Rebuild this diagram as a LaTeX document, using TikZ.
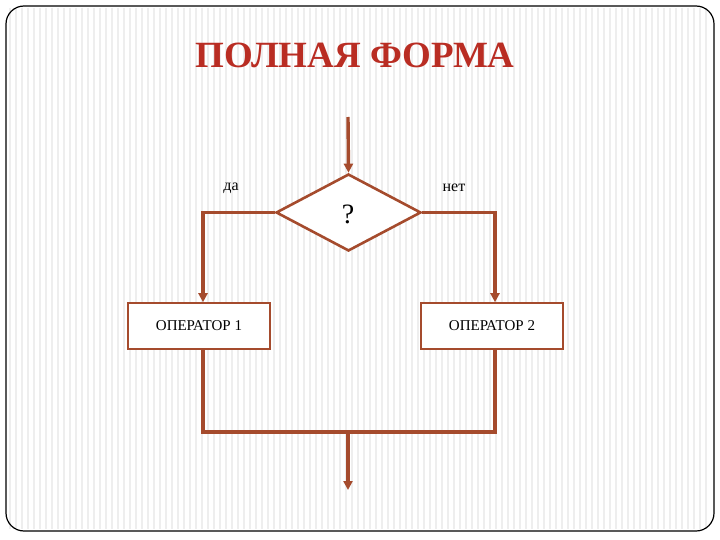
\documentclass[tikz,border=0pt]{standalone}
\usepackage{fontspec}
\setmainfont{Liberation Serif}
\usetikzlibrary{shapes.geometric,arrows.meta}
\definecolor{ln}{RGB}{165,75,45}
\definecolor{ttl}{RGB}{185,45,35}
\definecolor{stripe}{RGB}{238,238,238}
\tikzset{
  flow/.style={draw=ln,line width=3.4pt},
  arr/.style={flow,-{Triangle[length=9pt,width=9pt]}},
  opbox/.style={draw=ln,line width=1.6pt,fill=white,minimum width=142pt,minimum height=46pt,font=\fontsize{15}{17}\selectfont},
  lab/.style={font=\fontsize{16}{18}\selectfont}
}
\begin{document}
\begin{tikzpicture}[x=1pt,y=-1pt]
\useasboundingbox (0,0) rectangle (720,540);
\fill[white] (0,0) rectangle (720,540);
\foreach \i in {10,16,...,710} \draw[stripe,line width=1.5pt] (\i,8) -- (\i,529);
\draw[line width=1.2pt,rounded corners=18pt] (6,6) rectangle (714,531);
\node[font=\bfseries\fontsize{37}{40}\selectfont,text=ttl] (title) at (355,55) {ПОЛНАЯ ФОРМА};
\node[diamond,draw=ln,line width=2.6pt,fill=white,minimum width=145pt,minimum height=77pt,inner sep=0pt,aspect=1.9] (d) at (348.5,212.5) {};
\node[font=\fontsize{28}{30}\selectfont] (q) at (348,214) {?};
\coordinate (in) at (348,117);
\draw[arr] (in) -- (d.north);
\node[opbox] (o1) at (199,326) {ОПЕРАТОР 1};
\node[opbox] (o2) at (492,326) {ОПЕРАТОР 2};
\node[lab] (da) at (231,188) {да};
\node[lab] (net) at (454,188) {нет};
\draw[arr] (d.west) -| (o1.north -| 203,0);
\draw[arr] (d.east) -| (o2.north -| 495,0);
\coordinate (bl) at (203,432);
\coordinate (br) at (495,432);
\coordinate (bm) at (348,432);
\coordinate (out) at (348,490);
\draw[flow] (o1.south -| bl) -- (bl) -- (br) -- (o2.south -| br);
\draw[arr] (bm) -- (out);
\end{tikzpicture}
\end{document}
